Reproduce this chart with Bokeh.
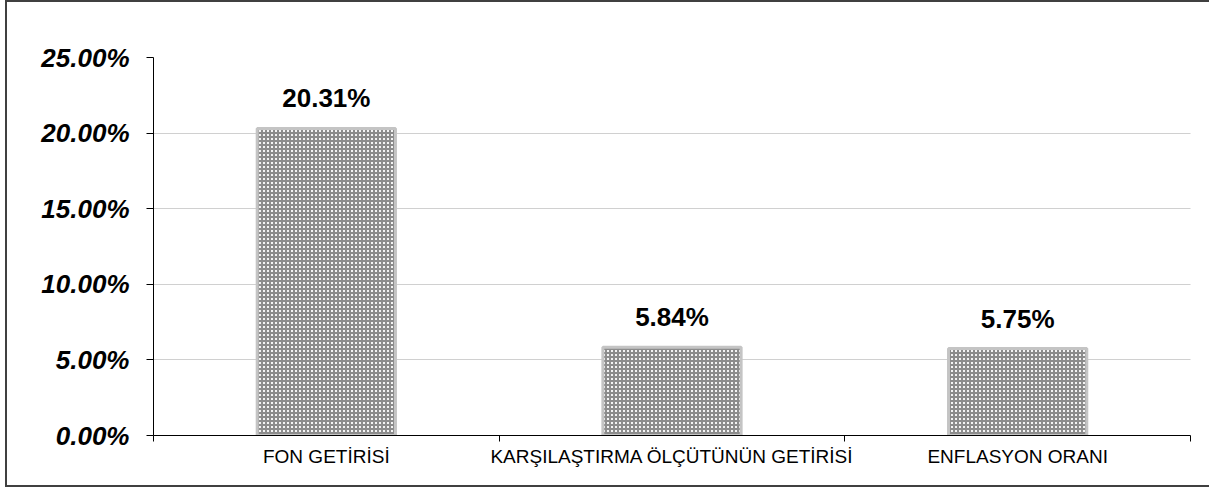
from bokeh.plotting import figure
from bokeh.models import FixedTicker, Range1d, ColumnDataSource
from bokeh.embed import file_html
from bokeh.resources import INLINE
from bokeh.core.properties import value

categories = ["FON GETİRİSİ", "KARŞILAŞTIRMA ÖLÇÜTÜNÜN GETİRİSİ", "ENFLASYON ORANI"]
values = [20.31, 5.84, 5.75]
y_ticks = [0, 5, 10, 15, 20, 25]
y_tick_labels = ["0.00%", "5.00%", "10.00%", "15.00%", "20.00%", "25.00%"]

xs = [i + 0.5 for i in range(len(categories))]
src = ColumnDataSource(dict(x=xs, top=values, cat=categories,
                            lab=[f"{v:.2f}%" for v in values]))

FONT = "Liberation Sans"

p = figure(width=1206, height=487, output_backend="svg", toolbar_location=None,
           x_range=Range1d(0, len(categories)), y_range=Range1d(0, 25),
           min_border_left=146, min_border_right=23, min_border_top=55, min_border_bottom=54)
p.margin = (0, -4, 0, 5)
p.styles = {"border-left": "2px solid #404040", "border-top": "2px solid #404040",
            "border-bottom": "2px solid #404040", "border-right": "none",
            "box-sizing": "border-box"}
p.outline_line_color = None
p.background_fill_color = "white"
p.border_fill_color = "white"

# grid
p.xgrid.grid_line_color = None
p.ygrid.ticker = FixedTicker(ticks=y_ticks[1:])
p.ygrid.grid_line_color = "#a0a0a0"
p.ygrid.grid_line_dash = "1 1"
p.ygrid.grid_line_width = 1

# bars
p.vbar(x="x", top="top", width=0.4, bottom=0, source=src,
       fill_color="#f4f4f4", line_color="#c4c4c4", line_width=3,
       hatch_pattern="+", hatch_color="#8c8c8c", hatch_scale=4, hatch_weight=2)

# data labels
p.text(x="x", y="top", text="lab", source=src, text_align="center",
       text_baseline="bottom", y_offset=-15,
       text_font=value(FONT), text_font_style="bold", text_font_size="26px",
       text_color="black")

# y axis
yax = p.yaxis[0]
yax.ticker = FixedTicker(ticks=y_ticks, minor_ticks=[])
yax.major_label_overrides = {t: l for t, l in zip(y_ticks, y_tick_labels)}
yax.major_label_text_font = FONT
yax.major_label_text_font_style = "bold italic"
yax.major_label_text_font_size = "26px"
yax.major_label_text_color = "black"
yax.major_tick_out = 7
yax.major_tick_in = 0
yax.minor_tick_line_color = None
yax.axis_line_color = "black"
yax.major_tick_line_color = "black"
yax.major_label_standoff = 17

# x axis: labels at centres, ticks at boundaries
xax = p.xaxis[0]
xax.ticker = FixedTicker(ticks=xs, minor_ticks=list(range(len(categories) + 1)))
xax.major_label_overrides = {x: c for x, c in zip(xs, categories)}
xax.major_label_text_font = FONT
xax.major_label_text_font_size = "19px"
xax.major_label_text_color = "black"
xax.major_tick_line_color = None
xax.major_tick_out = 0
xax.major_tick_in = 0
xax.minor_tick_out = 6
xax.minor_tick_in = 0
xax.minor_tick_line_color = "black"
xax.axis_line_color = "black"
xax.major_label_standoff = 4

open("out.html", "w").write(file_html(p, INLINE))
